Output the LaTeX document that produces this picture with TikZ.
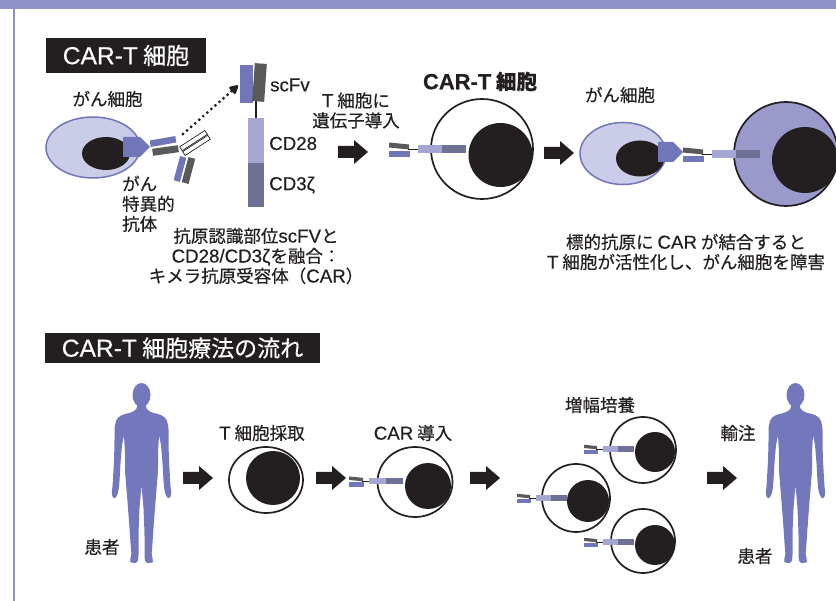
\documentclass[tikz,border=0pt]{standalone}
\usepackage{fontspec}
\setmainfont{Noto Sans CJK JP}[FakeBold=0.35]
\newfontfamily\latn{Liberation Sans}[Scale=1.07, FakeBold=0.35]
\newcommand{\LatinTxt}[1]{{\latn #1}}
\usetikzlibrary{arrows.meta,shapes.geometric}

\definecolor{band}{HTML}{8E92C8}
\definecolor{inkblack}{HTML}{231F20}
\definecolor{violet}{HTML}{7076B8}
\definecolor{paleviolet}{HTML}{CBCCE8}
\definecolor{cdlight}{HTML}{A4A6D4}
\definecolor{cddark}{HTML}{6E7094}
\definecolor{greybar}{HTML}{58595B}
\definecolor{activefill}{HTML}{999ACB}
\definecolor{personfill}{HTML}{7378BC}

\tikzset{
  lbl/.style={font=\fontsize{17.5}{20}\selectfont, inner sep=0pt, align=center, text=inkblack},
  titlebox/.style={fill=inkblack, text=white, inner sep=0pt, font=\fontsize{23}{26}\selectfont},
  bar/.style={rectangle, inner sep=0pt, outer sep=0pt, draw=none},
  cellwall/.style={ellipse, draw=inkblack, line width=1.7pt, fill=white, inner sep=0pt},
  nucleus/.style={ellipse, fill=inkblack, inner sep=0pt},
  cancerwall/.style={ellipse, draw=violet, line width=1.5pt, fill=paleviolet, inner sep=0pt},
  pics/carglyph/.style={code={
    \fill[greybar] (0,-6.5) -- (20,-4.5) -- (20,0.5) -- (0,-1.5) -- cycle;
    \fill[violet] (0,2) rectangle (21,8);
    \draw[inkblack, line width=0.8pt] (19,0) -- (29,0);
    \fill[cdlight] (29,-4) rectangle (53,4);
    \fill[cddark] (53,-4) rectangle (77,4);
  }},
  pics/blockarrow/.style={code={
    \fill[inkblack] (0,-6) -- (16,-6) -- (16,-12) -- (30,0) -- (16,12) -- (16,6) -- (0,6) -- cycle;
  }},
  pics/person/.style={code={
    \fill[personfill] (0,12) ellipse [x radius=9, y radius=12];
    \fill[personfill, rounded corners=2.5pt]
      (4.5,20) -- (4.5,26) -- (10,29.5) -- (20,32) -- (25,36) -- (27,44) -- (27,60) -- (27.5,78)
      -- (28.5,95) -- (29,104) -- (30,111) -- (28,116) -- (25,114) -- (23,108) -- (22,98)
      -- (21,80) -- (19.5,62) -- (17.5,52) -- (16.5,70) -- (16.5,88) -- (15.5,100) -- (13.5,125)
      -- (12,145) -- (11,160) -- (10,172) -- (12,178) -- (10,180) -- (4,180) -- (3,174)
      -- (3,150) -- (2,125) -- (0,102)
      -- (-2,125) -- (-3,150) -- (-3,174) -- (-4,180) -- (-10,180) -- (-12,178) -- (-10,172)
      -- (-11,160) -- (-12,145) -- (-13.5,125) -- (-15.5,100) -- (-16.5,88) -- (-16.5,70) -- (-17.5,52)
      -- (-19.5,62) -- (-21,80) -- (-22,98) -- (-23,108) -- (-25,114) -- (-28,116) -- (-30,111)
      -- (-29,104) -- (-28.5,95) -- (-27.5,78) -- (-27,60) -- (-27,44) -- (-25,36) -- (-20,32)
      -- (-10,29.5) -- (-4.5,26) -- (-4.5,20) -- cycle;
  }}
}

\begin{document}
\begin{tikzpicture}[x=1pt,y=-1pt]
\useasboundingbox (0,0) rectangle (836,601);
\fill[white] (0,0) rectangle (836,601);

% frame: top band and left rule
\fill[band] (0,0) rectangle (836,9.3);
\fill[band] (12.8,0) rectangle (15.2,601);

% ---------- upper panel: CAR-T cell ----------
\node[titlebox, minimum width=160, minimum height=35] (title1) at (126,55.5) {\LatinTxt{CAR-T} 細胞};

\node[lbl] (lblcancer1) at (107.5,99) {がん細胞};
\node[cancerwall, minimum width=94, minimum height=61] (cc1) at (93,147.5) {};
\node[nucleus, minimum width=48, minimum height=33] (cc1n) at (106,153.5) {};
\fill[violet] (123,137) -- (140,137) -- (150,147) -- (140,157) -- (123,157) -- cycle;

% antibody
\node[bar, fill=violet, minimum width=26, minimum height=6.5, rotate=10] (fabh) at (163,141.5) {};
\node[bar, fill=greybar, minimum width=26, minimum height=7, rotate=8] (fabl) at (165.5,150.5) {};
\node[bar, fill=violet, minimum width=6.5, minimum height=25, rotate=-15] (fab2h) at (180,169) {};
\node[bar, fill=greybar, minimum width=7, minimum height=26, rotate=-15] (fab2l) at (188.5,170.5) {};
\node[bar, fill=white, draw=inkblack, line width=0.7pt, minimum width=30, minimum height=4.6, rotate=33] (fc1) at (193.5,140.6) {};
\node[bar, fill=white, draw=inkblack, line width=0.7pt, minimum width=30, minimum height=4.6, rotate=33] (fc2) at (196.5,145.4) {};
\node[lbl, align=left, anchor=north west] (lblab) at (122,175.5) {がん\\特異的\\抗体};

% receptor
\coordinate (dotstart) at (183,134);
\node[bar, fill=violet, minimum width=13, minimum height=38] (scfv) at (246.5,84) {};
\coordinate (dotend) at (238,85.5);
\draw[inkblack, line width=3.2pt, line cap=round, dash pattern=on 0pt off 5.4pt, -{Triangle[length=10pt,width=10pt,round=false]}] (dotstart) -- (dotend);
\node[bar, fill=cdlight, minimum width=16, minimum height=45] (cd28) at (256,140.5) {};
\draw[inkblack, line width=1.2pt] (cd28.north) -- ++(0,-18);
\node[bar, fill=greybar, minimum width=12, minimum height=38, rotate=-4] (scfvl) at (259.5,82.5) {};
\node[bar, fill=cddark, minimum width=16, minimum height=44] (cd3) at (256,185) {};
\node[lbl, anchor=west] (lblscfv) at (270,85) {\LatinTxt{scFv}};
\node[lbl, anchor=west] (lblcd28) at (269,143.5) {\LatinTxt{CD28}};
\node[lbl, anchor=west] (lblcd3) at (269,185) {\LatinTxt{CD3ζ}};

\node[lbl] (lblcar) at (256,256) {抗原認識部位\LatinTxt{scFV}と\\\LatinTxt{CD28/CD3ζ}を融合：\\キメラ抗原受容体（\LatinTxt{CAR}）};

\node[lbl] (lblgene) at (356,110.5) {\LatinTxt{T} 細胞に\\遺伝子導入};
\pic at (338,152) {blockarrow};

% CAR-T cell
\node[lbl, font=\bfseries\fontsize{20.5}{23}\selectfont] (lblcart) at (480,81.5) {\LatinTxt{CAR-T} 細胞};
\node[cellwall, minimum width=102, minimum height=100] (tcar) at (482,149) {};
\node[nucleus, minimum size=64] (tcarn) at (500.5,155) {};
\pic at (389,149) {carglyph};

\pic at (544,153) {blockarrow};

% binding to cancer cell
\node[lbl] (lblcancer2) at (620,95) {がん細胞};
\node[cancerwall, minimum width=86, minimum height=62] (cc2) at (623,153.5) {};
\node[nucleus, minimum width=48, minimum height=36] (cc2n) at (640,158.5) {};
\node[cellwall, fill=activefill, minimum size=104] (tact) at (786,154) {};
\node[nucleus, minimum size=66] (tactn) at (805,160) {};
\fill[violet] (658,142) -- (673,142) -- (683,152) -- (673,162) -- (658,162) -- cycle;
\pic at (683,154) {carglyph};

\node[lbl] (lblbind) at (686,252) {標的抗原に \LatinTxt{CAR} が結合すると\\\LatinTxt{T} 細胞が活性化し、がん細胞を障害};

% ---------- lower panel: treatment flow ----------
\node[titlebox, minimum width=275, minimum height=30] (title2) at (182.5,348) {\LatinTxt{CAR-T} 細胞療法の流れ};

\pic at (141.5,383) {person};
\node[lbl] (lblpat1) at (102,547) {患者};
\pic at (183,478) {blockarrow};

\node[lbl] (lbltcoll) at (262,433) {\LatinTxt{T} 細胞採取};
\node[cellwall, minimum width=74, minimum height=66] (cell1) at (266,480) {};
\node[nucleus, minimum size=54] (cell1n) at (273,478) {};
\pic at (316,478) {blockarrow};

\node[lbl] (lblcarin) at (413,433) {\LatinTxt{CAR} 導入};
\node[cellwall, minimum width=75, minimum height=70] (cell2) at (415,482) {};
\node[nucleus, minimum size=46] (cell2n) at (428,486) {};
\pic[scale=0.7] at (349,481) {carglyph};
\pic at (470,478) {blockarrow};

\node[lbl] (lblexp) at (600,405) {増幅培養};
\node[cellwall, minimum size=66] (cella) at (643,450) {};
\node[nucleus, minimum size=40] (cellan) at (655,452) {};
\pic[scale=0.65] at (584,449) {carglyph};
\node[cellwall, minimum size=68] (cellb) at (576,498) {};
\node[nucleus, minimum size=42] (cellbn) at (588,501) {};
\pic[scale=0.65] at (517,498) {carglyph};
\node[cellwall, minimum size=64] (cellc) at (643,541) {};
\node[nucleus, minimum size=40] (cellcn) at (655,545) {};
\pic[scale=0.65] at (584,542) {carglyph};

\pic at (707,478) {blockarrow};
\node[lbl] (lblinf) at (738,433) {輸注};
\pic at (795.5,383) {person};
\node[lbl] (lblpat2) at (755,556) {患者};
\end{tikzpicture}
\end{document}
